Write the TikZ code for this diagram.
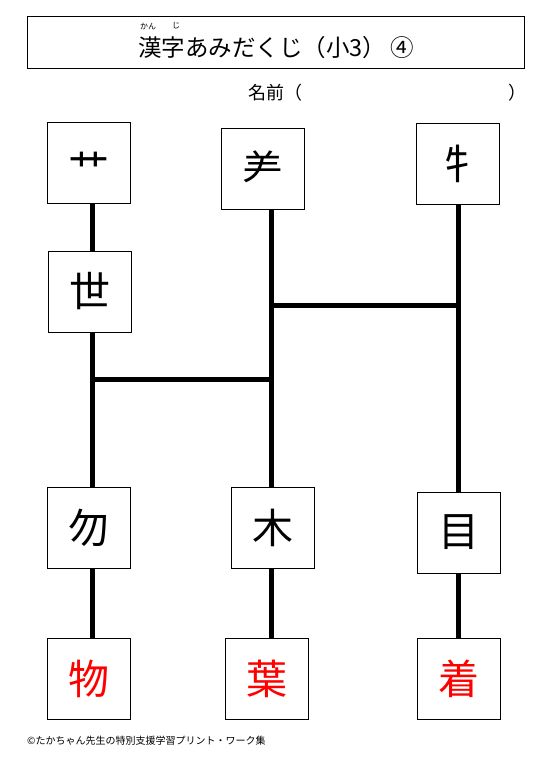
\documentclass[tikz,border=0pt]{standalone}
\usepackage{fontspec}
\setmainfont{Noto Sans CJK JP}
\begin{document}
\begin{tikzpicture}[
    x=1pt, y=-1pt,
    kbox/.style={rectangle, draw=black, line width=1pt, fill=white, minimum width=83pt, minimum height=81pt, inner sep=0pt, font=\fontsize{41}{41}\selectfont},
    ansbox/.style={kbox, text=red},
    pole/.style={line width=5pt},
    rung/.style={line width=5pt}
]
\useasboundingbox (0,0) rectangle (548,776);

% Title
\node (title) [rectangle, draw=black, line width=1pt, minimum width=497pt, minimum height=52pt] at (275.5,43) {};
\node (titletext) [font=\fontsize{23.5}{23.5}\selectfont] at (276,48) {漢字あみだくじ（小3）\hspace{4pt}④};
\node (ruby1) [font=\fontsize{8}{8}\selectfont] at (148,26) {かん};
\node (ruby2) [font=\fontsize{8}{8}\selectfont] at (176,26) {じ};
\node (name) [anchor=west, inner sep=0pt, font=\fontsize{18}{18}\selectfont] at (248,93) {名前（};
\node (nameend) [anchor=west, inner sep=0pt, font=\fontsize{18}{18}\selectfont] at (508,93) {）};

% Nodes
\node (top1) [kbox] at (88.5,162.5) {\raisebox{-6pt}[\height][\depth]{艹}};
\node (top2) [kbox] at (262.5,168.5) {⺶};
\node (top3) [kbox] at (458,163.5) {牜};
\node (seyo) [kbox] at (89.5,291.5) {世};
\node (mid1) [kbox] at (88.5,527.5) {勿};
\node (mid2) [kbox] at (272.5,528) {木};
\node (mid3) [kbox] at (458.5,532.5) {目};
\node (bot1) [ansbox] at (88.5,678.5) {物};
\node (bot2) [ansbox] at (267,679) {葉};
\node (bot3) [ansbox] at (458.5,679) {着};

% Lines
\coordinate (p1) at (92,0);
\coordinate (p2) at (271,0);
\coordinate (p3) at (458,0);
\draw [pole] (top1.south -| p1) -- (seyo.north -| p1);
\draw [pole] (seyo.south -| p1) -- (mid1.north -| p1);
\draw [pole] (mid1.south -| p1) -- (bot1.north -| p1);
\draw [pole] (top2.south -| p2) -- (mid2.north -| p2);
\draw [pole] (mid2.south -| p2) -- (bot2.north -| p2);
\draw [pole] (top3.south -| p3) -- (mid3.north -| p3);
\draw [pole] (mid3.south -| p3) -- (bot3.north -| p3);

\coordinate (r1a) at (271,305);
\coordinate (r1b) at (458,305);
\coordinate (r2a) at (92,379);
\coordinate (r2b) at (271,379);
\draw [rung] (r1a) -- (r1b);
\draw [rung] (r2a) -- (r2b);

% Footer
\node (credit) [anchor=west, inner sep=0pt, font=\fontsize{10}{10}\selectfont] at (27,741) {©たかちゃん先生の特別支援学習プリント・ワーク集};

\end{tikzpicture}
\end{document}
